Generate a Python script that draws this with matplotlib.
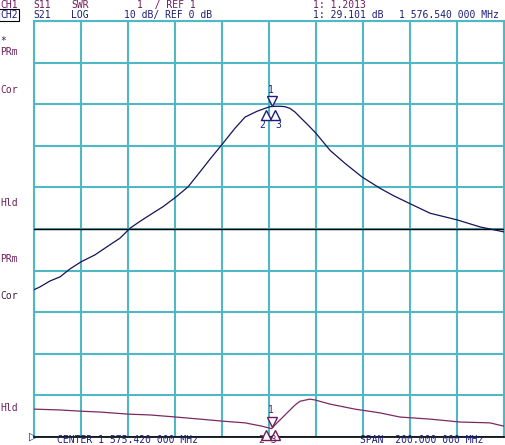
import numpy as np
import matplotlib
matplotlib.use('Agg')
import matplotlib.pyplot as plt

CENTER = 1575.42  # MHz
SPAN = 200.0

# CH2: S21 log magnitude (dB), frequency offset from center in MHz
s21_off = [-100, -97.4, -93.2, -88.9, -84.7, -80, -74, -67.7, -63.4, -59.1, -55, -50.6,
           -45, -39.6, -34.5, -29.4, -25.1, -19.6, -14.5, -10.2, -5.1, -1.7, 0.4, 2.6,
           4.7, 6.8, 8.9, 11.1, 13.2, 16.6, 20, 26, 32.3, 39.6, 47.2, 53, 59.6, 68.5,
           80, 89.8, 100]
s21_db = [-14.6, -13.9, -12.5, -11.5, -9.6, -7.9, -6.2, -3.8, -2.2, 0.2, 1.8, 3.4,
          5.4, 7.7, 10.1, 13.7, 16.8, 20.6, 24.2, 26.9, 28.3, 29.0, 29.4, 29.5,
          29.5, 29.4, 29.0, 28.1, 26.9, 25.0, 23.0, 18.9, 15.8, 12.5, 9.8, 8.0, 6.2, 3.8,
          2.2, 0.5, -0.7]

# CH1: S11 SWR
swr_off = [-100, -88.9, -80, -71.9, -60, -50.6, -39.6, -29.4, -19.6, -10.2, -3,
           1.12, 2.55, 6.8, 11.1, 13.2, 17.4, 19.6, 26, 36.6, 47.2, 55.7, 68.5,
           81.3, 94, 100]
swr_val = [1.67, 1.65, 1.62, 1.60, 1.55, 1.53, 1.48, 1.43, 1.38, 1.34, 1.26,
           1.20, 1.29, 1.53, 1.77, 1.86, 1.91, 1.89, 1.79, 1.67, 1.58, 1.48, 1.43,
           1.36, 1.34, 1.26]

mk_off = 1.12  # marker 1 position

CH1 = '#6e1e5a'
CH2 = '#1e1e78'
GRID = '#4fb8c4'
MONO = 'DejaVu Sans Mono'

fig = plt.figure(figsize=(5.05, 4.45), dpi=100)
W, H = 505, 445
ax = fig.add_axes([34 / W, 8 / H, 470 / W, 416 / H])
ax2 = ax.twinx()
s21_f = CENTER + np.array(s21_off)
swr_f = CENTER + np.array(swr_off)
fmin, fmax = CENTER - SPAN / 2, CENTER + SPAN / 2

ax.set_xlim(fmin, fmax)
ax.set_ylim(-50, 50)
ax.set_xticks(np.linspace(fmin, fmax, 11))
ax.set_yticks(np.linspace(-50, 50, 11))
ax.grid(True, color=GRID, linewidth=1.5)
ax.tick_params(left=False, right=False, bottom=False, labelleft=False, labelbottom=False)
for s in ['left', 'right', 'top']:
    ax.spines[s].set_color(GRID)
    ax.spines[s].set_linewidth(1.5)
ax.spines['bottom'].set_color('black')
ax.spines['bottom'].set_linewidth(1.2)
ax.axhline(0, color='black', linewidth=1.0, zorder=3)
ax.plot(s21_f, s21_db, color='#14145a', linewidth=0.9, zorder=4)

ax2.set_ylim(1, 11)
ax2.axis('off')
ax2.plot(swr_f, swr_val, color='#7a2a62', linewidth=0.9, zorder=4)

# markers
mf = CENTER + mk_off
tri = dict(markersize=7, markerfacecolor='white', linestyle='none', clip_on=False)
ax.plot([mf], [29.1 + 1.6], marker='v', markeredgecolor=CH2, zorder=5, **tri)
ax.plot([mf - 2.5, mf + 1.5], [29.1 - 1.6] * 2, marker='^', markeredgecolor=CH2, zorder=5, **tri)
ax.text(mf - 0.5, 29.1 + 3.2, '1', color=CH2, fontsize=7, family=MONO, ha='center', va='bottom')
ax.text(mf - 3.8, 29.1 - 3.0, '2', color=CH2, fontsize=7, family=MONO, ha='center', va='top')
ax.text(mf + 2.8, 29.1 - 3.0, '3', color=CH2, fontsize=7, family=MONO, ha='center', va='top')

ax2.plot([mf], [1.2 + 0.16], marker='v', markeredgecolor=CH1, zorder=5, **tri)
ax2.plot([mf - 2.5, mf + 1.5], [1.2 - 0.16] * 2, marker='^', markeredgecolor=CH1, zorder=5, **tri)
ax2.text(mf - 0.5, 1.2 + 0.32, '1', color=CH1, fontsize=7, family=MONO, ha='center', va='bottom')
fig.text(268 / W, 1 - 440 / H, '2 3', color=CH1, fontsize=7, family=MONO, ha='center', va='center')

# header
def t(x, y, s, c, **kw):
    fig.text(x / W, 1 - y / H, s, color=c, fontsize=7, family=MONO, va='center', **kw)

t(0, 5, 'CH1', CH1)
fig.add_artist(plt.Line2D([0, 17 / W], [1 - 10 / H] * 2, color=CH1, linewidth=0.8))
t(33, 5, 'S11', CH1)
t(71, 5, 'SWR', CH1)
t(137, 5, '1  / REF 1', CH1)
t(0, 15, 'CH2', CH2, bbox=dict(boxstyle='square,pad=0.1', facecolor='white', edgecolor='black', linewidth=0.8))
t(33, 15, 'S21', CH2)
t(71, 15, 'LOG', CH2)
t(124, 15, '10 dB/ REF 0 dB', CH2)
t(313, 5, '1: 1.2013', CH1)
t(313, 15, '1: 29.101 dB', CH2)
t(399, 15, '1 576.540 000 MHz', CH2)

# left annotations
t(0, 41, '*', CH2)
t(0, 52, 'PRm', CH1)
t(0, 90, 'Cor', CH1)
t(0, 203, 'Hld', CH1)
t(0, 259, 'PRm', CH1)
t(0, 296, 'Cor', '#402040')
t(0, 408, 'Hld', CH1)

# bottom
t(57, 440, 'CENTER 1 575.420 000 MHz', CH2)
t(360, 440, 'SPAN  200.000 000 MHz', CH2)
fig.text(29 / W, 1 - 437 / H, '\u25b7', color=CH2, fontsize=8, family='DejaVu Sans',
         va='center', ha='left')

fig.savefig('out.png', dpi=100, facecolor='white')
